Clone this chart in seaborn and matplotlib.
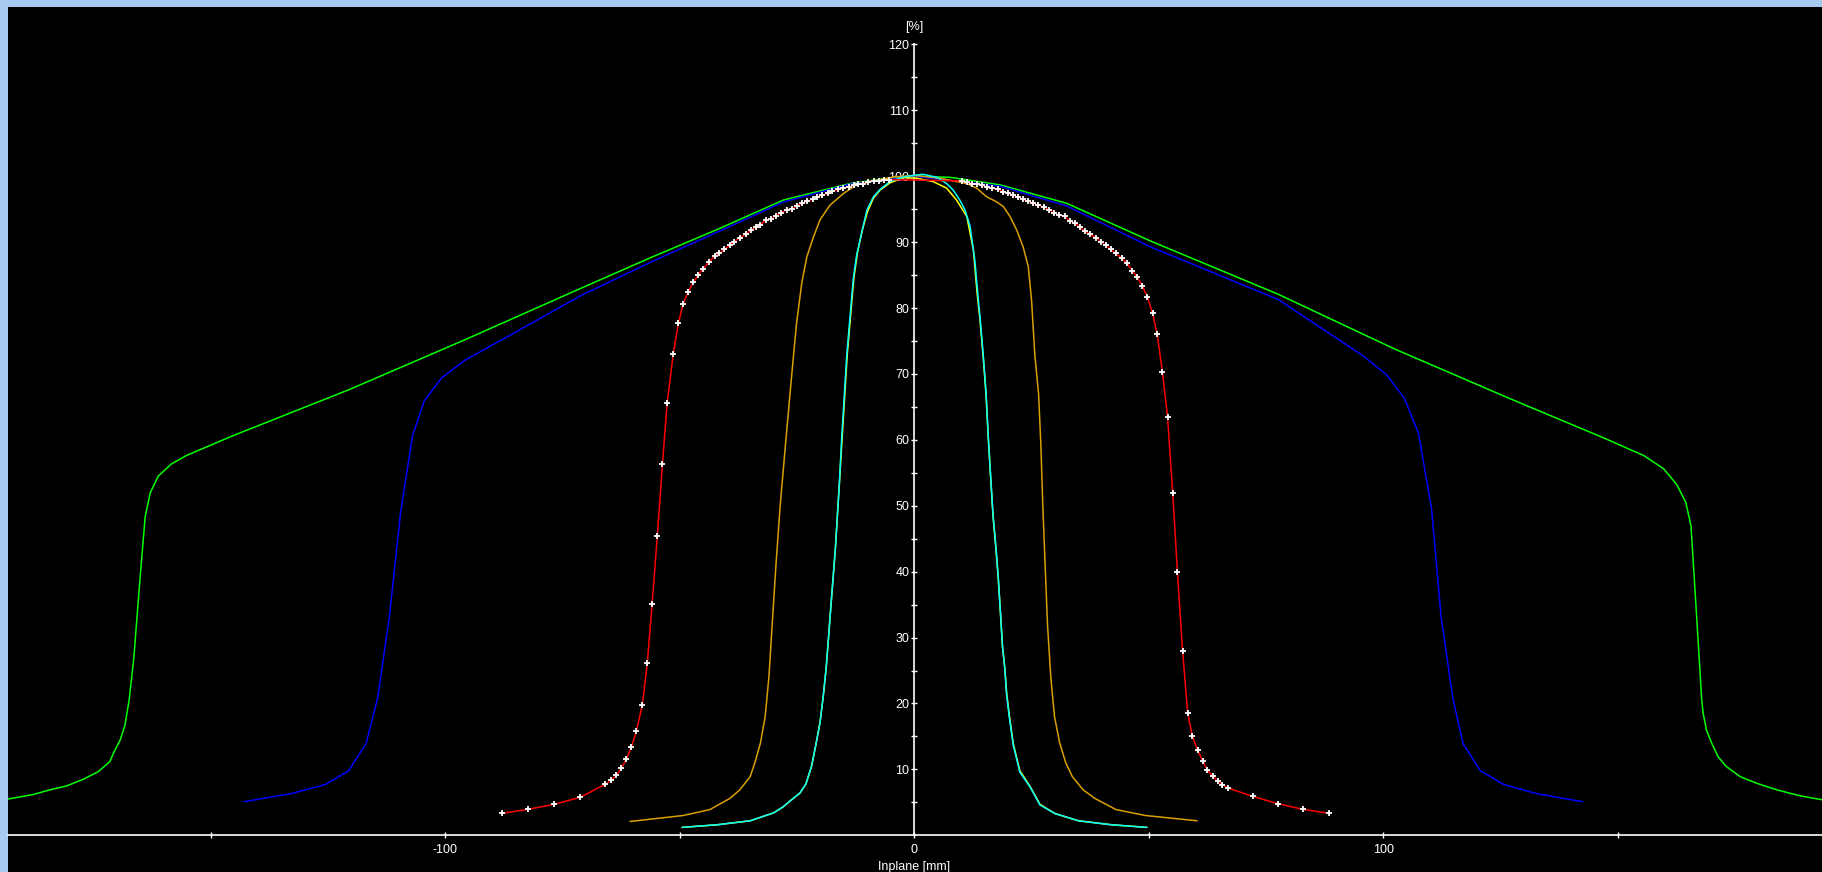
import matplotlib
matplotlib.use("Agg")
import matplotlib.pyplot as plt
import seaborn as sns

# Beam profiles (relative dose in % vs. in-plane position in mm)
green_x = [-193.2, -187.8, -184.3, -180.7, -177.2, -174.0, -171.5, -170.8, -169.3, -168.3,
           -167.4, -166.4, -165.2, -164.0, -162.9, -161.2, -158.5, -155.3, -145.4, -120.6,
           -95.8, -71.1, -56.4, -42.1, -27.9, -13.7, -6.7, 0.0, 7.6, 18.3,
           32.5, 50.3, 77.6, 102.4, 127.2, 147.0, 155.6, 159.8, 162.6, 164.5,
           165.6, 166.8, 167.9, 168.2, 168.9, 170.0, 171.4, 173.2, 176.1, 179.6,
           183.9, 188.8, 193.5]
green_y = [5.5, 6.2, 6.9, 7.5, 8.5, 9.65, 11.2, 12.4, 14.5, 16.7,
           20.6, 27.0, 38.0, 48.3, 52.0, 54.5, 56.3, 57.6, 60.6, 67.6,
           75.2, 83.0, 87.6, 91.9, 96.4, 98.9, 99.6, 100.0, 99.85, 98.7,
           95.9, 90.2, 82.1, 73.8, 66.2, 60.3, 57.6, 55.6, 53.2, 50.5,
           47.0, 33.3, 20.5, 18.5, 16.0, 14.0, 11.9, 10.4, 8.9, 7.9,
           6.9, 6.0, 5.4]

blue_x = [-142.9, -133.0, -125.6, -120.6, -116.9, -114.4, -111.9, -109.5, -107.0, -104.5,
          -100.8, -95.8, -83.4, -71.1, -56.4, -42.1, -27.9, -13.7, 0.0, 18.3,
          32.5, 50.3, 77.6, 95.8, 100.8, 104.5, 107.5, 110.3, 112.3, 114.8,
          117.0, 120.7, 125.7, 132.8, 142.5]
blue_y = [5.1, 6.3, 7.7, 9.8, 13.9, 20.9, 33.3, 49.2, 60.6, 65.9,
          69.4, 72.1, 77.0, 81.9, 86.9, 91.5, 96.1, 98.8, 100.0, 98.5,
          95.5, 89.3, 81.3, 72.7, 69.8, 66.3, 61.0, 49.5, 33.3, 20.9,
          13.9, 9.8, 7.7, 6.3, 5.1]

red_x = [-87.85, -82.30, -76.76, -71.22, -65.88, -64.61, -63.54, -62.47, -61.41, -60.34,
         -59.27, -58.00, -56.93, -55.9, -54.8, -53.7, -52.7, -51.4, -50.3, -49.3,
         -48.2, -47.1, -46.1, -45.0, -43.7, -42.6, -41.6, -40.5, -39.4, -38.4,
         -37.2, -35.9, -34.9, -33.8, -32.8, -31.7, -30.6, -29.5, -28.4, -27.2,
         -26.1, -25.1, -23.9, -22.8, -21.7, -20.7, -19.6, -18.5, -17.5, -16.2,
         -15.1, -14.0, -12.9, -11.9, -10.9, -9.8, -8.6, -7.5, -6.4, -5.4,
         10.1, 11.2, 12.2, 13.4, 14.5, 15.6, 16.6, 17.9, 19.0, 20.0,
         21.1, 22.2, 23.2, 24.3, 25.4, 26.4, 27.7, 28.7, 29.8, 30.9,
         32.1, 33.2, 34.3, 35.3, 36.4, 37.5, 38.7, 39.8, 40.9, 41.9,
         43.0, 44.2, 45.3, 46.5, 47.5, 48.6, 49.7, 50.8, 51.8, 52.9,
         54.0, 55.1, 56.1, 57.2, 58.3, 59.3, 60.4, 61.5, 62.5, 63.6,
         64.7, 65.7, 66.8, 72.2, 77.5, 82.8, 88.4]
red_y = [3.34, 3.95, 4.70, 5.77, 7.74, 8.35, 9.10, 10.17, 11.53, 13.35,
         15.78, 19.73, 26.1, 35.1, 45.4, 56.3, 65.6, 73.0, 77.7, 80.6,
         82.5, 83.9, 85.0, 86.0, 87.0, 87.9, 88.3, 88.9, 89.5, 90.1,
         90.7, 91.2, 91.8, 92.3, 92.6, 93.4, 93.5, 94.0, 94.5, 94.9,
         95.1, 95.5, 95.9, 96.2, 96.5, 96.9, 97.1, 97.4, 97.7, 98.0,
         98.2, 98.4, 98.7, 98.9, 98.9, 99.2, 99.3, 99.3, 99.4, 99.5,
         99.3, 99.1, 98.9, 98.8, 98.7, 98.3, 98.2, 98.0, 97.6, 97.4,
         97.1, 96.8, 96.5, 96.2, 95.9, 95.6, 95.3, 94.9, 94.5, 94.1,
         93.9, 93.2, 92.9, 92.3, 91.7, 91.2, 90.7, 90.1, 89.5, 88.9,
         88.3, 87.6, 86.8, 85.7, 84.7, 83.4, 81.7, 79.2, 76.0, 70.3,
         63.5, 52.0, 40.0, 28.0, 18.5, 15.0, 12.9, 11.3, 9.9, 9.0,
         8.2, 7.7, 7.2, 5.9, 4.8, 3.95, 3.34]

orange_x = [-60.6, -49.3, -43.6, -39.3, -37.2, -35.0, -34.0, -32.8, -31.8, -31.0,
            -30.3, -29.5, -28.6, -27.5, -26.5, -25.65, -25.1, -24.0, -22.9, -21.5,
            -20.1, -18.0, -15.1, -12.3, -8.0, -4.5, -0.2, 1.2, 5.5, 9.0,
            11.2, 13.3, 15.4, 17.6, 19.0, 20.4, 21.8, 23.2, 24.3, 25.0,
            25.7, 26.5, 27.0, 27.4, 27.9, 28.4, 29.1, 29.9, 31.0, 32.3,
            33.7, 36.0, 38.5, 43.0, 49.3, 60.3]
orange_y = [2.1, 3.0, 3.9, 5.6, 6.9, 8.9, 11.0, 14.0, 18.0, 24.0,
            32.0, 41.0, 50.0, 59.0, 67.0, 73.6, 77.7, 83.8, 87.8, 90.8,
            93.4, 95.6, 97.4, 98.7, 99.4, 99.9, 100.1, 100.05, 99.7, 99.2,
            98.9, 98.2, 96.9, 96.1, 95.4, 93.9, 91.9, 89.3, 86.3, 81.2,
            72.9, 67.0, 59.0, 50.0, 41.0, 32.0, 24.0, 18.0, 14.0, 11.0,
            8.9, 6.9, 5.6, 3.9, 3.0, 2.2]

cyan_x = [-49.5, -42.0, -35.0, -30.0, -28.0, -26.5, -24.4, -23.1, -21.9, -21.0,
          -20.1, -19.4, -18.8, -18.3, -17.8, -17.3, -16.8, -16.4, -16.0, -15.5,
          -14.9, -14.4, -13.7, -13.0, -12.3, -11.2, -10.1, -8.7, -7.3, -5.2,
          -2.3, 0.5, 1.9, 4.8, 6.9, 8.3, 9.7, 10.8, 11.9, 12.9,
          13.6, 14.0, 14.7, 15.3, 15.8, 16.3, 16.8, 17.4, 17.9, 18.4,
          18.8, 19.3, 19.7, 20.3, 21.1, 22.5, 24.7, 26.8, 30.0, 35.0,
          42.0, 49.6]
cyan_y = [1.2, 1.6, 2.2, 3.4, 4.3, 5.2, 6.4, 7.8, 10.5, 13.7,
          17.1, 21.2, 25.3, 29.9, 34.6, 39.2, 43.8, 48.5, 53.1, 60.1,
          67.1, 72.9, 78.7, 84.5, 88.0, 91.5, 94.9, 96.9, 98.0, 99.2,
          99.9, 100.2, 100.3, 99.85, 98.9, 97.9, 96.4, 94.9, 92.4, 87.3,
          81.7, 78.7, 72.9, 67.1, 60.1, 54.3, 48.5, 43.8, 39.2, 33.4,
          28.7, 25.3, 21.2, 17.7, 13.7, 9.6, 7.3, 4.6, 3.3, 2.2,
          1.6, 1.2]

yellow_x = [-49.5, -42.0, -35.0, -30.0, -28.0, -26.5, -24.4, -23.1, -21.9, -21.0,
            -20.1, -19.4, -18.8, -18.3, -17.8, -17.3, -16.8, -16.4, -16.0, -15.4,
            -14.8, -14.3, -13.6, -12.9, -12.1, -11.1, -10.0, -8.7, -7.3, -5.2,
            -2.3, 0.5, 4.0, 6.9, 9.0, 11.2, 12.6, 13.4, 14.0, 14.7,
            15.3, 15.8, 16.3, 16.8, 17.4, 17.9, 18.4, 18.8, 19.3, 19.7,
            20.3, 21.1, 22.5, 24.7, 26.8, 30.0, 35.0, 42.0, 49.6]
yellow_y = [1.2, 1.6, 2.2, 3.4, 4.3, 5.2, 6.4, 7.8, 10.5, 13.7,
            17.1, 21.2, 25.3, 29.9, 34.6, 39.2, 43.8, 48.5, 53.1, 60.1,
            67.1, 72.9, 78.7, 84.5, 88.5, 91.8, 94.6, 96.7, 97.9, 99.0,
            99.8, 99.7, 99.2, 98.2, 96.4, 93.9, 88.8, 82.2, 78.3, 72.5,
            66.8, 60.0, 54.0, 48.3, 43.5, 39.0, 33.4, 28.7, 25.3, 21.5,
            18.0, 13.9, 9.8, 7.4, 4.7, 3.3, 2.2, 1.6, 1.2]

x_major = [-100, 0, 100]
x_minor = [-150, -50, 50, 150]
y_major = list(range(10, 121, 10))
y_minor = list(range(5, 120, 10))

sns.set_theme(style="ticks")
plt.rcParams["font.family"] = ["Liberation Sans Narrow", "Liberation Sans", "DejaVu Sans"]
plt.rcParams["axes.unicode_minus"] = False

W, H = 1822, 872
fig = plt.figure(figsize=(W / 100, H / 100), dpi=100, facecolor="#A6CAF0")
ax = fig.add_axes([8 / W, 0, (W - 8) / W, (H - 7) / H])
ax.set_facecolor("black")

line_kw = dict(ax=ax, sort=False, estimator=None, linewidth=1.1)
sns.lineplot(x=green_x, y=green_y, color="#00FF00", **line_kw)
sns.lineplot(x=blue_x, y=blue_y, color="#0000FF", **line_kw)
sns.lineplot(x=orange_x, y=orange_y, color="#DAA000", **line_kw)
sns.lineplot(x=yellow_x, y=yellow_y, color="#FFFF00", **line_kw)
sns.lineplot(x=cyan_x, y=cyan_y, color="#00FFFF", **line_kw)
sns.lineplot(x=red_x, y=red_y, color="#FF0000", marker="+", markersize=4.5,
             markeredgecolor="white", markerfacecolor="white", markeredgewidth=1.3,
             **line_kw)

ax.set_xlim(-193.24, 193.54)
ax.set_ylim(-5.57, 125.69)

for side in ("top", "right"):
    ax.spines[side].set_visible(False)
ax.spines["left"].set_position(("data", 0))
ax.spines["bottom"].set_position(("data", 0))
ax.spines["left"].set_bounds(0, 120)
for side in ("left", "bottom"):
    ax.spines[side].set_color("white")
    ax.spines[side].set_linewidth(1.2)
    ax.spines[side].set_zorder(0.5)

ax.set_xticks(x_major)
ax.set_xticklabels([str(v) for v in x_major])
ax.set_xticks(x_minor, minor=True)
ax.set_yticks(y_major)
ax.set_yticklabels([str(v) for v in y_major])
ax.set_yticks(y_minor, minor=True)
ax.tick_params(axis="both", which="both", direction="inout", length=4,
               width=1, color="white", labelcolor="white", labelsize=9)
ax.tick_params(axis="x", pad=4)
ax.tick_params(axis="y", pad=1.5)
ax.set_xlabel("")
ax.set_ylabel("")

ax.text(0, 122.66, "[%]", ha="center", va="center", color="white", fontsize=9)
ax.text(0, -3.9, "Inplane [mm]", ha="center", va="top", color="white",
        fontsize=9, clip_on=False)

fig.savefig("out.png", dpi=100, facecolor=fig.get_facecolor())
